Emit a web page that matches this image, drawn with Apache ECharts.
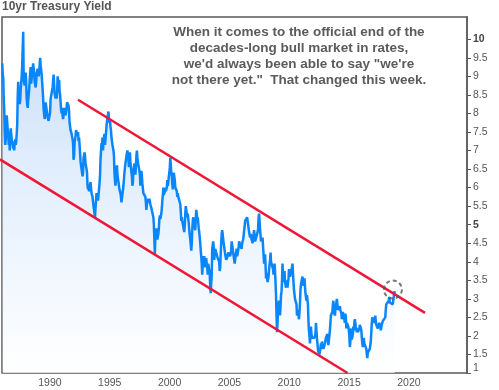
<!DOCTYPE html>
<html><head><meta charset="utf-8">
<script src="https://cdn.jsdelivr.net/npm/echarts@6/dist/echarts.min.js"></script>
<style>html,body{margin:0;padding:0;background:#fff}#c{width:499px;height:390px}</style>
</head><body><div id="c"></div>
<script>
const chartTitle = '10yr Treasury Yield';
const annotationLines = [
  'When it comes to the official end of the',
  'decades-long bull market in rates,',
  'we\'d always been able to say "we\'re',
  'not there yet."  That changed this week.'
];
const firstYear = 1986;
// two readings per month (first half, second half), one row per year
const yieldsByYear = [
  [9.35,9.05,8.95,8.40,8.10,7.45,7.15,7.30,7.50,7.95,8.00,7.55,7.45,7.15,7.35,7.00,7.30,7.60,7.55,7.30,7.35,7.15,7.05,7.20],
  [7.00,7.20,7.30,7.15,7.25,7.45,7.70,8.45,8.85,8.40,8.55,8.25,8.35,8.65,8.60,9.00,9.30,9.75,10.20,8.90,8.95,8.75,9.00,9.10],
  [8.85,8.40,8.25,8.15,8.35,8.50,8.65,8.90,9.10,9.25,8.80,8.95,9.10,9.20,9.35,9.20,9.05,8.85,8.90,8.70,8.85,9.10,9.10,9.20],
  [9.15,9.00,9.10,9.30,9.50,9.30,9.25,9.05,9.00,8.65,8.40,8.10,8.15,7.85,7.95,8.30,8.30,8.10,8.15,7.90,7.90,7.80,7.85,7.95],
  [8.05,8.40,8.45,8.55,8.50,8.70,8.70,9.05,9.00,8.55,8.55,8.40,8.50,8.40,8.55,9.00,8.95,8.80,8.90,8.60,8.50,8.30,8.10,8.00],
  [8.15,7.95,7.85,7.80,8.05,8.15,8.05,7.95,8.00,8.15,8.30,8.30,8.35,8.20,8.05,7.75,7.70,7.55,7.60,7.45,7.50,7.30,7.20,6.75],
  [6.85,7.20,7.30,7.40,7.55,7.60,7.55,7.40,7.50,7.25,7.35,7.15,6.95,6.70,6.65,6.50,6.45,6.30,6.40,6.80,6.85,6.95,6.85,6.65],
  [6.65,6.50,6.40,6.05,5.95,6.05,5.90,6.00,6.05,6.15,6.00,5.85,5.80,5.75,5.75,5.50,5.40,5.30,5.20,5.45,5.65,5.85,5.80,5.75],
  [5.65,5.80,5.85,6.10,6.30,6.75,6.80,7.20,7.10,7.35,7.00,7.25,7.20,7.45,7.15,7.30,7.25,7.65,7.70,7.90,7.95,8.05,7.85,7.75],
  [7.85,7.65,7.55,7.35,7.25,7.15,7.10,7.00,6.85,6.40,6.20,6.05,6.10,6.45,6.60,6.35,6.25,6.15,6.10,5.95,5.95,5.85,5.75,5.60],
  [5.60,5.65,5.55,6.05,6.05,6.40,6.40,6.65,6.65,6.85,6.85,7.00,7.00,6.75,6.55,6.85,6.95,6.70,6.65,6.40,6.30,6.05,6.15,6.45],
  [6.55,6.65,6.45,6.35,6.60,6.85,7.00,6.80,6.80,6.60,6.55,6.45,6.35,6.05,6.25,6.45,6.30,6.10,6.05,5.85,5.90,5.85,5.80,5.75],
  [5.60,5.40,5.55,5.60,5.60,5.70,5.60,5.70,5.70,5.55,5.55,5.45,5.45,5.50,5.45,5.20,5.00,4.60,4.20,4.70,4.75,4.90,4.70,4.60],
  [4.65,4.75,4.90,5.15,5.25,5.15,5.10,5.30,5.45,5.65,5.80,6.00,5.80,5.75,5.90,6.00,5.90,5.95,6.00,6.20,6.05,6.15,6.30,6.40],
  [6.55,6.80,6.60,6.40,6.30,6.10,5.95,6.15,6.40,6.45,6.20,6.00,6.05,6.00,5.90,5.75,5.85,5.75,5.80,5.70,5.80,5.55,5.35,5.10],
  [5.20,5.10,5.15,4.95,4.90,4.80,5.00,5.30,5.50,5.40,5.35,5.20,5.30,5.15,5.05,4.85,4.80,4.60,4.55,4.30,4.50,4.85,5.10,5.20],
  [5.05,5.00,4.95,4.85,5.15,5.40,5.30,5.10,5.20,5.05,4.90,4.80,4.75,4.50,4.30,4.15,3.95,3.65,3.70,4.15,4.05,4.15,4.00,3.85],
  [4.00,4.10,3.95,3.85,3.65,3.95,3.90,4.00,3.70,3.35,3.15,3.40,3.65,4.35,4.40,4.55,4.40,4.05,4.20,4.35,4.35,4.25,4.30,4.20],
  [4.10,4.15,4.10,4.00,3.75,3.85,4.20,4.50,4.75,4.85,4.75,4.60,4.50,4.45,4.30,4.20,4.15,4.05,4.10,4.05,4.15,4.25,4.20,4.25],
  [4.20,4.15,4.10,4.30,4.55,4.45,4.40,4.25,4.15,4.05,3.95,4.05,4.10,4.25,4.35,4.15,4.10,4.30,4.40,4.55,4.60,4.45,4.45,4.40],
  [4.35,4.50,4.55,4.60,4.70,4.85,4.95,5.10,5.15,5.10,5.05,5.20,5.10,5.00,4.90,4.80,4.75,4.65,4.75,4.70,4.60,4.55,4.50,4.65],
  [4.70,4.85,4.80,4.55,4.50,4.65,4.70,4.65,4.80,4.90,5.20,5.30,5.10,4.85,4.70,4.55,4.50,4.60,4.65,4.40,4.20,3.95,4.05,4.20],
  [3.90,3.55,3.70,3.75,3.45,3.45,3.60,3.80,3.85,4.05,4.25,4.00,4.05,3.95,3.95,3.80,3.65,3.80,3.95,3.75,3.70,3.10,2.55,2.10],
  [2.35,2.75,2.85,2.95,3.00,2.55,2.80,3.10,3.20,3.50,3.95,3.55,3.45,3.65,3.75,3.45,3.40,3.30,3.30,3.50,3.30,3.45,3.55,3.80],
  [3.80,3.60,3.65,3.70,3.70,3.85,3.95,3.70,3.45,3.25,3.25,3.00,3.00,2.95,2.85,2.55,2.60,2.70,2.55,2.45,2.65,2.90,3.25,3.40],
  [3.35,3.40,3.60,3.55,3.35,3.45,3.55,3.35,3.15,3.05,2.95,3.10,3.15,2.85,2.40,2.15,2.00,1.80,2.00,2.25,2.05,1.95,2.00,1.90],
  [1.95,1.90,1.95,2.00,2.05,2.35,2.15,1.95,1.90,1.65,1.55,1.65,1.50,1.45,1.65,1.80,1.65,1.85,1.75,1.75,1.65,1.60,1.70,1.80],
  [1.85,1.95,2.00,1.95,2.05,1.85,1.75,1.70,1.75,2.15,2.20,2.55,2.60,2.55,2.65,2.85,2.95,2.65,2.65,2.55,2.70,2.80,2.85,3.00],
  [2.95,2.70,2.75,2.65,2.65,2.80,2.70,2.65,2.60,2.45,2.55,2.65,2.55,2.50,2.45,2.35,2.60,2.50,2.20,2.35,2.30,2.35,2.25,2.15],
  [2.00,1.70,1.85,2.10,2.20,1.90,1.85,2.05,2.25,2.15,2.35,2.45,2.40,2.25,2.20,2.10,2.20,2.10,2.05,2.10,2.20,2.30,2.25,2.25],
  [2.15,1.95,1.80,1.70,1.85,1.95,1.80,1.85,1.85,1.75,1.65,1.50,1.40,1.55,1.55,1.60,1.60,1.65,1.70,1.85,1.85,2.35,2.50,2.55],
  [2.45,2.45,2.45,2.35,2.55,2.40,2.30,2.25,2.35,2.20,2.20,2.20,2.35,2.30,2.25,2.15,2.10,2.30,2.35,2.40,2.35,2.35,2.40,2.45],
  [2.50,2.70,2.85,2.90,2.85,2.80,2.80,2.95,3.05,2.90,2.95,2.90,2.85,2.95,2.95,2.85,2.95,3.05,3.20,3.15]
];
const xTickYears = [1990, 1995, 2000, 2005, 2010, 2015, 2020];
const yTickValues = [1, 1.5, 2, 2.5, 3, 3.5, 4, 4.5, 5, 5.5, 6, 6.5, 7, 7.5, 8, 8.5, 9, 9.5, 10];
const upperChannel = [[1992.35, 8.37], [2021.34, 2.62]];
const lowerChannel = [[1985.83, 6.76], [2014.87, 1.0]];
const highlightPoint = [[2018.66, 3.25]];

const seriesData = [];
yieldsByYear.forEach((row, r) => row.forEach((v, j) => {
  seriesData.push([firstYear + r + (j + 0.5) / 24, v]);
}));

const FONT = '"Liberation Sans", Arial, sans-serif';
const chart = echarts.init(document.getElementById('c'), null, { renderer: 'canvas' });
chart.setOption({
  animation: false,
  backgroundColor: '#ffffff',
  title: {
    text: chartTitle, left: 2, top: 1, padding: 0,
    textStyle: { fontFamily: FONT, fontSize: 12, fontWeight: 'bold', color: '#555555' }
  },
  grid: { left: 2, right: 32, top: 17, bottom: 17, show: true, borderColor: '#5a5a5a', borderWidth: 1.5, backgroundColor: 'transparent' },
  xAxis: {
    type: 'value', min: 1986, max: 2024.85,
    axisLine: { show: false }, axisTick: { show: false }, splitLine: { show: false },
    axisLabel: { customValues: xTickYears, formatter: v => String(v), color: '#555555', fontFamily: FONT, fontSize: 10.5, margin: 5 }
  },
  yAxis: {
    type: 'value', position: 'right', min: 1, max: 10.6,
    axisLine: { show: true, lineStyle: { color: '#5a5a5a', width: 1.5 } },
    axisTick: { show: true, customValues: yTickValues, length: 4, lineStyle: { color: '#5a5a5a' } },
    splitLine: { show: false },
    axisLabel: {
      customValues: yTickValues, margin: 6, color: '#555555', fontFamily: FONT, fontSize: 10.5,
      formatter: v => (v % 5 === 0 ? '{b|' + v + '}' : (v === 1 ? '{low|1}' : String(v))),
      rich: { b: { fontWeight: 'bold', color: '#444444', fontFamily: FONT, fontSize: 10.5 }, low: { padding: [0, 0, 10, 0], fontFamily: FONT, fontSize: 10.5, color: '#555555' } }
    }
  },
  graphic: [{
    type: 'text', x: 299, y: 24, z: 10,
    style: {
      text: annotationLines.join('\n'), align: 'center', verticalAlign: 'top',
      fontFamily: FONT, fontSize: 13.5, fontWeight: 'bold', lineHeight: 16, fill: '#5b5b5b'
    }
  }],
  series: [
    {
      type: 'line', data: seriesData, showSymbol: false, symbol: 'none', z: 2,
      lineStyle: { color: '#0a86fb', width: 2.5 },
      areaStyle: { color: new echarts.graphic.LinearGradient(0, 0, 0, 1, [{ offset: 0, color: '#b2d1f4' }, { offset: 0.5, color: '#dcebfc' }, { offset: 1, color: '#ffffff' }]) },
      emphasis: { disabled: true }
    },
    { type: 'line', data: upperChannel, symbol: 'none', z: 3, lineStyle: { color: '#f01637', width: 2.5 }, emphasis: { disabled: true } },
    { type: 'line', data: lowerChannel, symbol: 'none', z: 3, clip: false, lineStyle: { color: '#f01637', width: 2.5 }, emphasis: { disabled: true } },
    {
      type: 'scatter', data: highlightPoint, symbol: 'circle', symbolSize: 18, z: 5,
      itemStyle: { color: 'rgba(0,0,0,0)', borderColor: '#555555', borderWidth: 2, borderType: [4, 3] },
      emphasis: { disabled: true }
    }
  ]
});
</script>
</body></html>
